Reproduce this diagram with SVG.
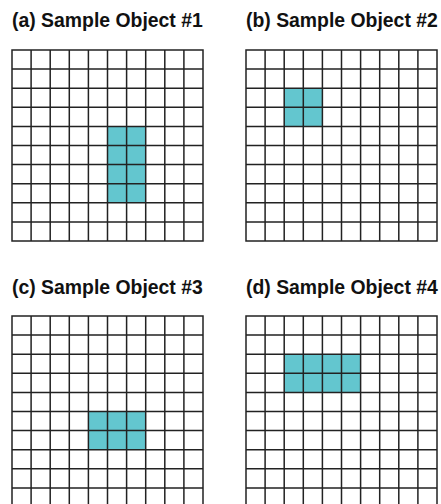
<svg xmlns="http://www.w3.org/2000/svg" xmlns:xlink="http://www.w3.org/1999/xlink" width="441" height="504" viewBox="0 0 441 504">
<style>
.title{font-family:"Liberation Sans",Arial,sans-serif;font-weight:bold;font-size:19.4px;fill:#111}
.grid{fill:none;stroke:#222;stroke-width:1.5}
.cell{fill:#63c6cf}
</style>
<defs>
<path id="g" class="grid" d="M0,0H191V191H0Z M19.1,0V191 M38.2,0V191 M57.3,0V191 M76.4,0V191 M95.5,0V191 M114.6,0V191 M133.7,0V191 M152.8,0V191 M171.9,0V191 M0,19.1H191 M0,38.2H191 M0,57.3H191 M0,76.4H191 M0,95.5H191 M0,114.6H191 M0,133.7H191 M0,152.8H191 M0,171.9H191"/>
</defs>
<rect width="441" height="504" fill="#fff"/>
<g id="objA">
<text class="title" x="12" y="27">(a) Sample Object #1</text>
<rect class="cell" x="107.5" y="126.4" width="38.2" height="76.4"/>
<use xlink:href="#g" href="#g" x="12" y="50"/>
</g>
<g id="objB">
<text class="title" x="246" y="27">(b) Sample Object #2</text>
<rect class="cell" x="284.2" y="88.2" width="38.2" height="38.2"/>
<use xlink:href="#g" href="#g" x="246" y="50"/>
</g>
<g id="objC">
<text class="title" x="12" y="294">(c) Sample Object #3</text>
<rect class="cell" x="88.4" y="411.5" width="57.3" height="38.2"/>
<use xlink:href="#g" href="#g" x="12" y="316"/>
</g>
<g id="objD">
<text class="title" x="246" y="294">(d) Sample Object #4</text>
<rect class="cell" x="284.2" y="354.2" width="76.4" height="38.2"/>
<use xlink:href="#g" href="#g" x="246" y="316"/>
</g>
<g id="connectors"/>
</svg>
